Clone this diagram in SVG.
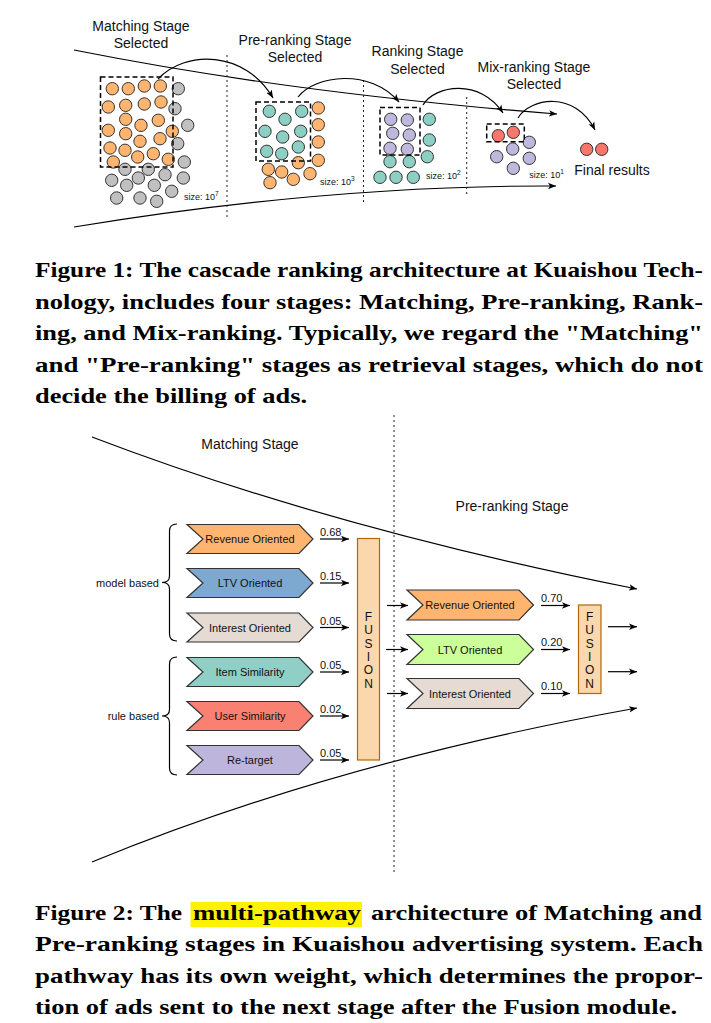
<svg xmlns="http://www.w3.org/2000/svg" width="711" height="1023" viewBox="0 0 711 1023">
<defs>
<marker id="ah" viewBox="0 0 10 10" refX="10" refY="5" markerWidth="8" markerHeight="8" markerUnits="userSpaceOnUse" orient="auto"><path d="M0,1 L10,5 L0,9 L2.5,5 z" fill="#000"/></marker>
</defs>
<style>
.lbl{font-family:"Liberation Sans",Arial,sans-serif;font-size:14px;fill:#111;text-anchor:middle}
.sm{font-family:"Liberation Sans",Arial,sans-serif;font-size:11px;fill:#111}
.smc{font-family:"Liberation Sans",Arial,sans-serif;font-size:11px;fill:#111;text-anchor:middle}
.fl{font-family:"Liberation Sans",Arial,sans-serif;font-size:12px;fill:#111;text-anchor:middle}
.sz{font-family:"Liberation Sans",Arial,sans-serif;font-size:9px;fill:#111}
.cap{font-family:"Liberation Serif","Times New Roman",serif;font-size:22px;font-weight:bold;fill:#000}
.ln{fill:none;stroke:#000;stroke-width:1.2}
.dot{stroke:#222;stroke-width:1;stroke-dasharray:2,3;fill:none}
.dbox{fill:none;stroke:#000;stroke-width:1.5;stroke-dasharray:5,3}
circle{stroke:#333;stroke-width:1}
.or{fill:#FFB570}.gr{fill:#C0C0C0}.te{fill:#8ECFC4}.pu{fill:#BEB8DD}.re{fill:#F8776A}
.chev{stroke:#333;stroke-width:1.2}
.fus{fill:#FAD7AC;stroke:#B46504;stroke-width:1.2}
.arr{fill:none;stroke:#000;stroke-width:1.2;marker-end:url(#ah)}
</style>

<!-- ===== Figure 1 ===== -->
<g id="fig1-funnel">
<path class="arr" d="M74,50 Q290,93 557,114"/>
<path class="arr" d="M74,227 Q330,185 556,186"/>
<line class="dot" x1="227" y1="55" x2="227" y2="218"/>
<line class="dot" x1="363.5" y1="80" x2="363.5" y2="205"/>
<line class="dot" x1="466.7" y1="97" x2="466.7" y2="197"/>
</g>

<g id="matching-stage">
<text class="lbl" x="141" y="31">Matching Stage</text>
<text class="lbl" x="141" y="48">Selected</text>
<g>
<circle class="gr" cx="178.3" cy="88.7" r="6.2"/><circle class="gr" cx="175" cy="108.7" r="6.2"/><circle class="gr" cx="187.7" cy="125.3" r="6.2"/><circle class="gr" cx="177.7" cy="143.7" r="6.2"/><circle class="gr" cx="184.3" cy="162" r="6.2"/><circle class="gr" cx="125" cy="169.3" r="6.2"/><circle class="gr" cx="148.3" cy="169.3" r="6.2"/><circle class="gr" cx="165" cy="174.7" r="6.2"/><circle class="gr" cx="183.3" cy="178" r="6.2"/><circle class="gr" cx="111.7" cy="180.3" r="6.2"/><circle class="gr" cx="138.3" cy="178" r="6.2"/><circle class="gr" cx="126.7" cy="185.3" r="6.2"/><circle class="gr" cx="154.3" cy="185.3" r="6.2"/><circle class="gr" cx="171.7" cy="191.3" r="6.2"/><circle class="gr" cx="116.7" cy="198" r="6.2"/><circle class="gr" cx="140" cy="198" r="6.2"/><circle class="gr" cx="156.7" cy="201.3" r="6.2"/>
<circle class="or" cx="112.3" cy="88.7" r="6.2"/><circle class="or" cx="128.3" cy="88.7" r="6.2"/><circle class="or" cx="144.3" cy="86" r="6.2"/><circle class="or" cx="160.3" cy="86" r="6.2"/><circle class="or" cx="108.3" cy="107" r="6.2"/><circle class="or" cx="125.7" cy="105.3" r="6.2"/><circle class="or" cx="144.3" cy="104" r="6.2"/><circle class="or" cx="161" cy="102" r="6.2"/><circle class="or" cx="125.7" cy="119.3" r="6.2"/><circle class="or" cx="158.3" cy="120.3" r="6.2"/><circle class="or" cx="141" cy="125.3" r="6.2"/><circle class="or" cx="108.3" cy="130.3" r="6.2"/><circle class="or" cx="125.7" cy="133.7" r="6.2"/><circle class="or" cx="172.3" cy="131.3" r="6.2"/><circle class="or" cx="140" cy="141.3" r="6.2"/><circle class="or" cx="160" cy="138.7" r="6.2"/><circle class="or" cx="110" cy="148" r="6.2"/><circle class="or" cx="125" cy="150.3" r="6.2"/><circle class="or" cx="137.7" cy="157" r="6.2"/><circle class="or" cx="153.3" cy="153.7" r="6.2"/><circle class="or" cx="168.3" cy="159.3" r="6.2"/><circle class="or" cx="113.3" cy="162" r="6.2"/>
</g>
<rect class="dbox" x="100.5" y="77" width="72.5" height="90"/>
<text class="sz" x="184" y="200">size: 10<tspan font-size="6.5" dy="-4">7</tspan></text>
</g>

<g id="preranking-stage">
<text class="lbl" x="295" y="45">Pre-ranking Stage</text>
<text class="lbl" x="295" y="62">Selected</text>
<circle class="or" cx="318.3" cy="108" r="6.2"/><circle class="or" cx="318.3" cy="124.7" r="6.2"/><circle class="or" cx="318.3" cy="142" r="6.2"/><circle class="or" cx="318.3" cy="160.3" r="6.2"/><circle class="or" cx="298.3" cy="162.7" r="6.2"/><circle class="or" cx="268.3" cy="169.3" r="6.2"/><circle class="or" cx="281.7" cy="172" r="6.2"/><circle class="or" cx="310" cy="173.7" r="6.2"/><circle class="or" cx="293.3" cy="179.3" r="6.2"/><circle class="or" cx="270" cy="182.7" r="6.2"/>
<circle class="te" cx="269.3" cy="111.3" r="6.2"/><circle class="te" cx="301.7" cy="111.3" r="6.2"/><circle class="te" cx="285" cy="119.3" r="6.2"/><circle class="te" cx="265" cy="131.3" r="6.2"/><circle class="te" cx="300.7" cy="131.3" r="6.2"/><circle class="te" cx="282.7" cy="137" r="6.2"/><circle class="te" cx="266.7" cy="151.3" r="6.2"/><circle class="te" cx="298.3" cy="147" r="6.2"/><circle class="te" cx="281.7" cy="153.7" r="6.2"/>
<rect class="dbox" x="256" y="102" width="54.5" height="59"/>
<text class="sz" x="320" y="185">size: 10<tspan font-size="6.5" dy="-4">3</tspan></text>
</g>

<g id="ranking-stage">
<text class="lbl" x="417.5" y="56">Ranking Stage</text>
<text class="lbl" x="417.5" y="73.5">Selected</text>
<circle class="te" cx="429.3" cy="119.3" r="6.2"/><circle class="te" cx="429.3" cy="140" r="6.2"/><circle class="te" cx="427.3" cy="156.7" r="6.2"/><circle class="te" cx="390" cy="161.7" r="6.2"/><circle class="te" cx="409.3" cy="161.7" r="6.2"/><circle class="te" cx="380" cy="177.3" r="6.2"/><circle class="te" cx="396" cy="177.3" r="6.2"/><circle class="te" cx="413.3" cy="177.3" r="6.2"/>
<circle class="pu" cx="390.7" cy="119.3" r="6.2"/><circle class="pu" cx="407.3" cy="120" r="6.2"/><circle class="pu" cx="392.7" cy="133.3" r="6.2"/><circle class="pu" cx="409.3" cy="135" r="6.2"/><circle class="pu" cx="390" cy="148.3" r="6.2"/><circle class="pu" cx="407.3" cy="149.3" r="6.2"/>
<rect class="dbox" x="380" y="107.5" width="40" height="47.5"/>
<text class="sz" x="426" y="178.5">size: 10<tspan font-size="6.5" dy="-4">2</tspan></text>
</g>

<g id="mixranking-stage">
<text class="lbl" x="534" y="72">Mix-ranking Stage</text>
<text class="lbl" x="534" y="89">Selected</text>
<circle class="pu" cx="529.3" cy="142.3" r="6.2"/><circle class="pu" cx="512.7" cy="149" r="6.2"/><circle class="pu" cx="496.7" cy="156.7" r="6.2"/><circle class="pu" cx="529.3" cy="158.3" r="6.2"/><circle class="pu" cx="513.3" cy="168.3" r="6.2"/>
<circle class="re" cx="498.3" cy="135.7" r="6.2"/><circle class="re" cx="513.3" cy="132.3" r="6.2"/>
<rect class="dbox" x="486.7" y="124" width="37.6" height="17.7"/>
<text class="sz" x="529.3" y="177.5">size: 10<tspan font-size="6.5" dy="-4">1</tspan></text>
</g>

<g id="final-results">
<circle class="re" cx="586.7" cy="149.3" r="6.2"/><circle class="re" cx="601.7" cy="149.3" r="6.2"/>
<text class="lbl" x="612" y="175">Final results</text>
</g>

<g id="fig1-connectors">
<path class="arr" d="M158,79 C185,50 245,50 273,98"/>
<path class="arr" d="M298,97 C315,75 370,68 399,102"/>
<path class="arr" d="M423,105 C435,85 480,78 503,113"/>
<path class="arr" d="M518,118 C530,98 575,90 595,130"/>
</g>

<g id="caption1">
<text class="cap" x="35" y="277" textLength="668" lengthAdjust="spacingAndGlyphs">Figure 1: The cascade ranking architecture at Kuaishou Tech-</text>
<text class="cap" x="35" y="309" textLength="668" lengthAdjust="spacingAndGlyphs">nology, includes four stages: Matching, Pre-ranking, Rank-</text>
<text class="cap" x="35" y="340" textLength="668" lengthAdjust="spacingAndGlyphs">ing, and Mix-ranking. Typically, we regard the "Matching"</text>
<text class="cap" x="35" y="372" textLength="668" lengthAdjust="spacingAndGlyphs">and "Pre-ranking" stages as retrieval stages, which do not</text>
<text class="cap" x="35" y="403" textLength="272" lengthAdjust="spacingAndGlyphs">decide the billing of ads.</text>
</g>

<!-- ===== Figure 2 ===== -->
<g id="fig2-funnel">
<path class="arr" d="M92,437 Q330,528 637,589"/>
<path class="arr" d="M92,862 Q335,762 637,708"/>
<line class="dot" x1="394" y1="415" x2="394" y2="872"/>
<text class="lbl" x="250" y="449">Matching Stage</text>
<text class="lbl" x="512" y="511">Pre-ranking Stage</text>
</g>

<g id="brace-model">
<path class="ln" d="M177,524 Q169.5,524 169.5,531 L169.5,576 Q169.5,582.5 162,582.5 Q169.5,582.5 169.5,589 L169.5,634 Q169.5,641 177,641"/>
<text class="sm" x="159" y="587" text-anchor="end">model based</text>
</g>
<g id="brace-rule">
<path class="ln" d="M177,657 Q169.5,657 169.5,664 L169.5,709.5 Q169.5,716 162,716 Q169.5,716 169.5,722.5 L169.5,768 Q169.5,775 177,775"/>
<text class="sm" x="159" y="720" text-anchor="end">rule based</text>
</g>

<g id="m-revenue"><polygon class="chev" fill="#FFB570" points="187,524.5 299,524.5 313,539 299,553.5 187,553.5 203,539"/><text class="smc" x="250" y="543">Revenue Oriented</text></g>
<g id="m-ltv"><polygon class="chev" fill="#7DA8CF" points="187,568.5 299,568.5 313,583 299,597.5 187,597.5 203,583"/><text class="smc" x="250" y="587">LTV Oriented</text></g>
<g id="m-interest"><polygon class="chev" fill="#E5DBD2" points="187,613 299,613 313,627.5 299,642 187,642 203,627.5"/><text class="smc" x="250" y="631.5">Interest Oriented</text></g>
<g id="m-item"><polygon class="chev" fill="#8FCFC5" points="187,657.5 299,657.5 313,672 299,686.5 187,686.5 203,672"/><text class="smc" x="250" y="676">Item Similarity</text></g>
<g id="m-user"><polygon class="chev" fill="#FA8072" points="187,701.5 299,701.5 313,716 299,730.5 187,730.5 203,716"/><text class="smc" x="250" y="720">User Similarity</text></g>
<g id="m-retarget"><polygon class="chev" fill="#BDB5DB" points="187,745.5 299,745.5 313,760 299,774.5 187,774.5 203,760"/><text class="smc" x="250" y="764">Re-target</text></g>

<g id="fusion1">
<rect class="fus" x="357.5" y="538.5" width="22" height="221.5"/>
<text class="fl" x="368.5" y="621">F<tspan x="368.5" dy="13.3">U</tspan><tspan x="368.5" dy="13.3">S</tspan><tspan x="368.5" dy="13.3">I</tspan><tspan x="368.5" dy="13.3">O</tspan><tspan x="368.5" dy="13.3">N</tspan></text>
</g>

<g id="p-revenue"><polygon class="chev" fill="#FFB570" points="407,590 519,590 533.5,605 519,620 407,620 423,605"/><text class="smc" x="470" y="609">Revenue Oriented</text></g>
<g id="p-ltv"><polygon class="chev" fill="#CCFF99" points="407,634.5 519,634.5 533.5,649.5 519,664.5 407,664.5 423,649.5"/><text class="smc" x="470" y="653.5">LTV Oriented</text></g>
<g id="p-interest"><polygon class="chev" fill="#E5DBD2" points="407,678.5 519,678.5 533.5,693.5 519,708.5 407,708.5 423,693.5"/><text class="smc" x="470" y="697.5">Interest Oriented</text></g>

<g id="fusion2">
<rect class="fus" x="578.5" y="605" width="22.5" height="88.5"/>
<text class="fl" x="589.7" y="621">F<tspan x="589.7" dy="13.3">U</tspan><tspan x="589.7" dy="13.3">S</tspan><tspan x="589.7" dy="13.3">I</tspan><tspan x="589.7" dy="13.3">O</tspan><tspan x="589.7" dy="13.3">N</tspan></text>
</g>

<g id="fig2-connectors">
<path class="arr" d="M320,539 H349"/><text class="sm" x="320" y="536">0.68</text>
<path class="arr" d="M320,583 H349"/><text class="sm" x="320" y="580">0.15</text>
<path class="arr" d="M320,627.5 H349"/><text class="sm" x="320" y="624.5">0.05</text>
<path class="arr" d="M320,672 H349"/><text class="sm" x="320" y="669">0.05</text>
<path class="arr" d="M320,716 H349"/><text class="sm" x="320" y="713">0.02</text>
<path class="arr" d="M320,760 H349"/><text class="sm" x="320" y="757">0.05</text>
<path class="arr" d="M387,605.5 H408"/>
<path class="arr" d="M386,649.5 H408"/>
<path class="arr" d="M387,693.5 H408"/>
<path class="arr" d="M541,605.5 H570"/><text class="sm" x="541" y="601.5">0.70</text>
<path class="arr" d="M541,649.5 H570"/><text class="sm" x="541" y="645.5">0.20</text>
<path class="arr" d="M541,693.5 H570"/><text class="sm" x="541" y="689.5">0.10</text>
<path class="arr" d="M608,626.7 H637"/>
<path class="arr" d="M608,671.7 H637"/>
</g>

<g id="caption2">
<rect x="190.5" y="902" width="171.5" height="25" fill="#FFF200"/>
<text class="cap" x="35" y="920" textLength="147" lengthAdjust="spacingAndGlyphs">Figure 2: The</text>
<text class="cap" x="193" y="920" textLength="168" lengthAdjust="spacingAndGlyphs">multi-pathway</text>
<text class="cap" x="371" y="920" textLength="331" lengthAdjust="spacingAndGlyphs">architecture of Matching and</text>
<text class="cap" x="35" y="951" textLength="668" lengthAdjust="spacingAndGlyphs">Pre-ranking stages in Kuaishou advertising system. Each</text>
<text class="cap" x="35" y="983" textLength="668" lengthAdjust="spacingAndGlyphs">pathway has its own weight, which determines the propor-</text>
<text class="cap" x="35" y="1014" textLength="642" lengthAdjust="spacingAndGlyphs">tion of ads sent to the next stage after the Fusion module.</text>
</g>
</svg>
